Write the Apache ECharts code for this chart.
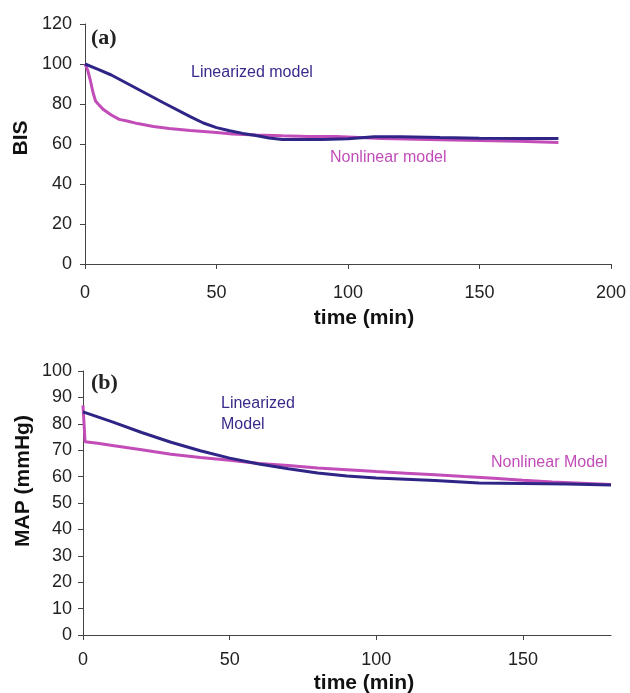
<!DOCTYPE html>
<html>
<head>
<meta charset="utf-8">
<script src="https://cdn.jsdelivr.net/npm/echarts@6/dist/echarts.min.js"></script>
<style>
html,body{margin:0;padding:0;background:#fff;}
#chart{width:630px;height:693px;}
</style>
</head>
<body>
<div id="chart"></div>
<script>
// ---- Panel (a): BIS ----
var timeA_lin = [0,5,10,20,30,40,45,50,55,60,65,70,75,80,90,100,110,120,135,150,165,180];
var bisLin    = [100,97.3,94.5,87.5,80.5,73.7,70.5,68.2,66.6,65.3,64.2,63,62.3,62.2,62.3,62.6,63.6,63.6,63.2,62.9,62.8,62.8];
var timeA_non = [0,1,2,3,4,5,7,10,13,16,20,26,32,40,50,56,65,75,85,95.5,96,113,113.5,135,135.5,165,165.5,180];
var bisNon    = [100,97,92,86,81.5,80,77.2,74.5,72.3,71.5,70.2,68.8,67.8,66.8,65.7,65,64.5,64.1,63.8,63.7,62.9,62.8,62.2,62.1,61.6,61.4,60.8,60.8];

// ---- Panel (b): MAP ----
var timeB_lin = [0,10,20,30,40,50,60,70,80,90,100,110,120,135,150,165,180];
var mapLin    = [84.5,80.7,76.7,73,69.8,67,64.8,63,61.4,60.2,59.5,59,58.5,57.6,57.4,57.2,56.8];
var timeB_non = [0,0.7,5,10,20,30,40,50,60,70,80,90,100,110,120,130,140,150,160,170,180];
var mapNon    = [87,73.2,72.6,71.8,70.2,68.5,67.2,66.2,65,64.2,63.3,62.6,61.9,61.3,60.7,60,59.4,58.6,58,57.5,57];

// ---- Tick settings ----
var xTicksA = {min:0, max:200, interval:50};
var yTicksA = {min:0, max:120, interval:20};
var xTicksB = {min:0, max:180, interval:50};
var yTicksB = {min:0, max:100, interval:10};

// ---- Labels ----
var panelLabels = ['(a)','(b)'];
var seriesNames = ['Linearized model','Nonlinear model'];
var annA = ['Linearized model','Nonlinear model'];
var annB = ['Linearized\nModel','Nonlinear Model'];
var xTitle = 'time (min)';
var yTitles = ['BIS','MAP (mmHg)'];

function pairs(xs, ys){ return xs.map(function(x,i){ return [x, ys[i]]; }); }

var BLUE = '#2E2586';
var PINK = '#C24DB8';
var FONT = '"Liberation Sans", Arial, sans-serif';
var AXC = '#444';

function xAxisCfg(idx, t, margin){
  return {
    type:'value', gridIndex:idx, min:t.min, max:t.max, interval:t.interval,
    axisLine:{show:true, onZero:false, lineStyle:{color:AXC, width:1}},
    axisTick:{show:true, inside:false, length:5, lineStyle:{color:AXC}},
    splitLine:{show:false},
    axisLabel:{color:'#222', fontSize:18, fontFamily:FONT, margin:margin,
      showMaxLabel: idx===0}
  };
}
function yAxisCfg(idx, t, margin){
  return {
    type:'value', gridIndex:idx, min:t.min, max:t.max, interval:t.interval,
    axisLine:{show:true, lineStyle:{color:AXC, width:1}},
    axisTick:{show:true, inside:false, length:5, lineStyle:{color:AXC}},
    splitLine:{show:false},
    axisLabel:{color:'#222', fontSize:18, fontFamily:FONT, margin:margin}
  };
}
function lineSeries(name, data, color, xi, yi, z){
  return {
    name:name, type:'line', xAxisIndex:xi, yAxisIndex:yi, data:data,
    showSymbol:false, symbol:'none', smooth:false, z:z,
    lineStyle:{color:color, width:3}, itemStyle:{color:color}
  };
}

var chart = echarts.init(document.getElementById('chart'));
chart.setOption({
  backgroundColor:'#fff',
  animation:false,
  grid:[
    {left:85, right:19, top:24, height:240},
    {left:83, right:19, top:371, height:264}
  ],
  xAxis:[xAxisCfg(0,xTicksA,20), xAxisCfg(1,xTicksB,16)],
  yAxis:[yAxisCfg(0,yTicksA,13), yAxisCfg(1,yTicksB,11)],
  series:[
    lineSeries(seriesNames[1], pairs(timeA_non,bisNon), PINK, 0, 0, 2),
    lineSeries(seriesNames[0], pairs(timeA_lin,bisLin), BLUE, 0, 0, 3),
    lineSeries(seriesNames[1], pairs(timeB_non,mapNon), PINK, 1, 1, 2),
    lineSeries(seriesNames[0], pairs(timeB_lin,mapLin), BLUE, 1, 1, 3)
  ],
  graphic:[
    {type:'text', left:91, top:27, style:{text:panelLabels[0], font:'bold 22px "Liberation Serif", "Times New Roman", serif', fill:'#222'}},
    {type:'text', left:91, top:372, style:{text:panelLabels[1], font:'bold 22px "Liberation Serif", "Times New Roman", serif', fill:'#222'}},
    {type:'text', left:191, top:65, style:{text:annA[0], font:'16px '+FONT, fill:'#3B2A8C'}},
    {type:'text', left:330, top:150, style:{text:annA[1], font:'16px '+FONT, fill:PINK}},
    {type:'text', left:221, top:393, style:{text:annB[0], font:'16px '+FONT, fill:'#3B2A8C', lineHeight:21}},
    {type:'text', left:491, top:455, style:{text:annB[1], font:'16px '+FONT, fill:PINK}},
    {type:'text', x:364, y:318, style:{text:xTitle, font:'bold 21px '+FONT, fill:'#111', textAlign:'center', textVerticalAlign:'middle'}},
    {type:'text', x:364, y:683, style:{text:xTitle, font:'bold 21px '+FONT, fill:'#111', textAlign:'center', textVerticalAlign:'middle'}},
    {type:'text', x:21, y:138, rotation:Math.PI/2, style:{text:yTitles[0], font:'bold 21px '+FONT, fill:'#111', textAlign:'center', textVerticalAlign:'middle'}},
    {type:'text', x:23, y:481, rotation:Math.PI/2, style:{text:yTitles[1], font:'bold 21px '+FONT, fill:'#111', textAlign:'center', textVerticalAlign:'middle'}}
  ]
});
</script>
</body>
</html>
